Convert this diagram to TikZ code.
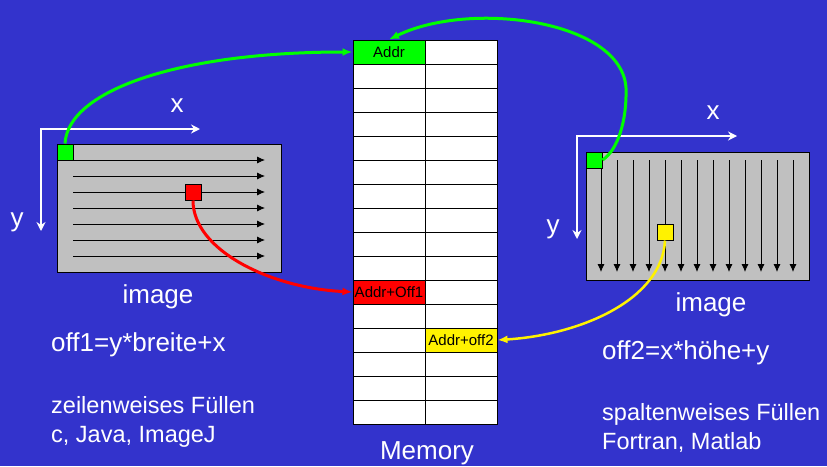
\documentclass[tikz,border=0pt]{standalone}
\usepackage{fontspec}
\setmainfont{Liberation Sans}
\usetikzlibrary{arrows.meta}
\definecolor{slide}{RGB}{51,51,204}
\definecolor{imggray}{RGB}{192,192,192}
\tikzset{
    cell/.style={draw=black, fill=white, line width=1pt, minimum width=72pt,
        minimum height=24pt, inner sep=0pt, font=\fontsize{15}{15}\selectfont},
    pix/.style={draw=black, line width=1pt, minimum size=16pt, inner sep=0pt},
    scan/.style={black, line width=0.8pt, -{Latex[length=8pt,width=7pt]}},
    axis/.style={white, line width=2.5pt, {Stealth[length=9pt,width=9pt]}-{Stealth[length=9pt,width=9pt]}},
    link/.style={line width=3pt, -{Latex[length=10pt,width=8pt]}},
    big/.style={white, inner sep=0pt, anchor=base west, font=\fontsize{26}{26}\selectfont},
    small/.style={white, inner sep=0pt, anchor=base west, font=\fontsize{23.5}{23.5}\selectfont}
}
\begin{document}
\begin{tikzpicture}[x=1pt,y=-1pt]
        \fill[slide] (0,0) rectangle (827,466);
        \useasboundingbox (0,0) rectangle (827,466);

        % linkes Bild: zeilenweise
        \draw[fill=imggray, line width=1pt] (57,144) rectangle (281,272);
        \foreach \y in {160,176,...,256}
            \draw[scan] (73,\y) -- (265,\y);
        \node[pix, fill=green] (startl) at (65,152) {};
        \node[pix, fill=red] (pixl) at (193,192) {};
        \coordinate (ol) at (41,129);
        \draw[axis] (41,231) -- (ol) -- (200,129);
        \node[big, anchor=base] (xl) at (177,112) {x};
        \node[big, anchor=base] (yl) at (17,226) {y};

        % rechtes Bild: spaltenweise
        \draw[fill=imggray, line width=1pt] (586,152) rectangle (809,280);
        \foreach \x in {601,617,...,793}
            \draw[scan] (\x,160) -- (\x,272);
        \node[pix, fill=green] (startr) at (594,160) {};
        \node[pix, fill=yellow] (pixr) at (665,232) {};
        \coordinate (or) at (577,136);
        \draw[axis] (577,239) -- (or) -- (737,136);
        \node[big, anchor=base] (xr) at (713,119) {x};
        \node[big, anchor=base] (yr) at (553,233) {y};

        % Speicher
        \foreach \r in {0,...,15}{
            \node[cell] (ma\r) at (389,{52+24*\r}) {};
            \node[cell] (mb\r) at (461,{52+24*\r}) {};
        }
        \node[cell, fill=green] (addr) at (ma0) {Addr};
        \node[cell, fill=red] (addroff1) at (ma10) {Addr+Off1};
        \node[cell, fill=yellow] (addroff2) at (mb12) {Addr+off2};
        \node[big, anchor=base] (mem) at (427,459) {Memory};

        % Verbindungen
        \draw[link, green] (startl.north) .. controls (68,90) and (180,52) .. (addr.west);
        \draw[link, green] (startr.east) .. controls (618,150) and (627,120) .. (626,88)
            .. controls (622,20) and (470,0) .. (addr.north);
        \draw[link, red] (pixl.south) .. controls (193,250) and (270,288) .. (addroff1.west);
        \draw[link, yellow, line width=2.5pt] (pixr.south) .. controls (662,300) and (580,335) .. (addroff2.east);

        % Texte
        \node[big, anchor=base] (imgl) at (158,303) {image};
        \node[big] (offl) at (51,351) {off1=y*breite+x};
        \node[small] (fl1) at (51,413) {zeilenweises Füllen};
        \node[small] (fl2) at (51,442) {c, Java, ImageJ};
        \node[big, anchor=base] (imgr) at (711,311) {image};
        \node[big] (offr) at (602,359) {off2=x*höhe+y};
        \node[small] (fr1) at (602,420) {spaltenweises Füllen};
        \node[small] (fr2) at (602,449) {Fortran, Matlab};
\end{tikzpicture}
\end{document}
